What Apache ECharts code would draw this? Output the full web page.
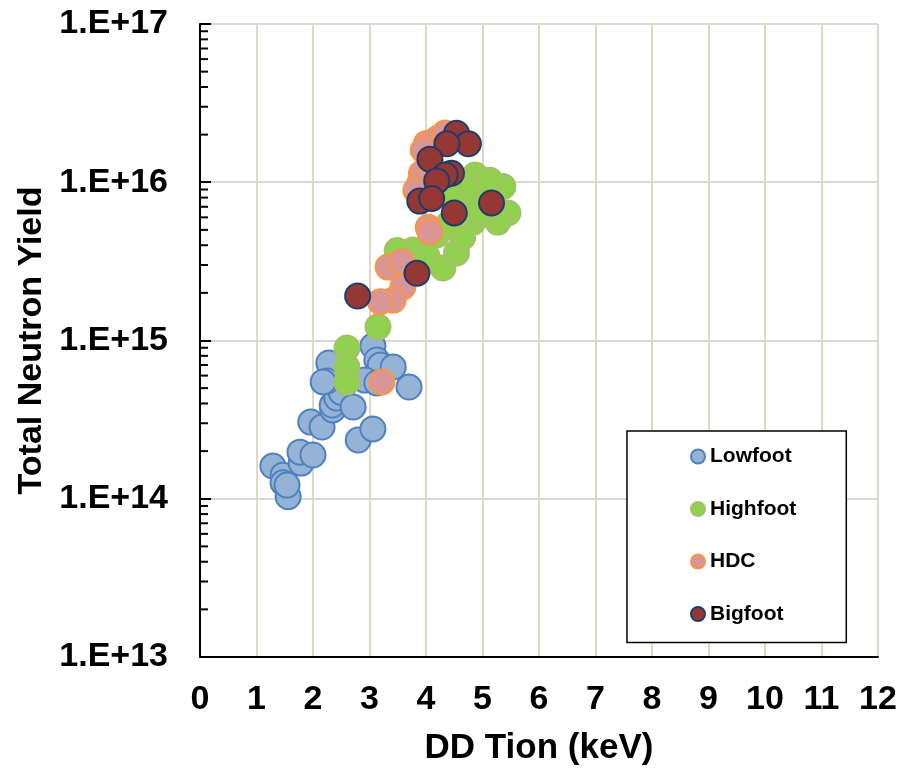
<!DOCTYPE html>
<html>
<head>
<meta charset="utf-8">
<script src="https://cdn.jsdelivr.net/npm/echarts@6/dist/echarts.min.js"></script>
<style>
    html, body { margin: 0; padding: 0; background: #fff; }
    #chart { width: 904px; height: 769px; }
</style>
</head>
<body>
<div id="chart"></div>
<script>
// [DD Tion (keV), total neutron yield]
const lowfootPoints = [
    [1.29, 1.61e14], [1.47, 1.41e14], [1.47, 1.26e14], [1.56, 1.03e14], [1.54, 1.22e14],
    [1.79, 1.68e14], [1.77, 1.97e14], [2.00, 1.89e14], [1.96, 3.05e14], [2.16, 2.84e14],
    [2.35, 3.64e14], [2.34, 3.91e14], [2.42, 4.33e14], [2.50, 4.7e14], [2.71, 3.80e14],
    [2.80, 2.35e14], [3.06, 2.76e14], [2.28, 7.21e14], [2.25, 5.55e14], [2.18, 5.47e14],
    [3.06, 9.23e14], [3.13, 7.53e14], [3.19, 7.0e14], [3.42, 6.8e14], [2.92, 5.62e14],
    [3.13, 5.39e14], [3.70, 5.08e14]
];
const highfootPoints = [
    [3.15, 1.22e15], [2.60, 8.97e14], [2.60, 6.8e14], [2.60, 5.47e14], [3.77, 3.73e15],
    [3.49, 3.7e15], [4.02, 3.39e15], [4.30, 2.87e15], [4.54, 3.57e15], [4.19, 4.64e15],
    [4.87, 1.11e16], [5.36, 9.4e15], [5.45, 6.4e15], [5.27, 5.6e15], [4.83, 5.6e15],
    [4.60, 7.0e15], [4.72, 8.9e15], [5.07, 7.7e15], [4.65, 4.5e15], [4.39, 5.4e15],
    [5.13, 1.03e16], [4.45, 8.0e15], [4.95, 6.5e15]
];
const hdcPoints = [
    [4.01, 1.76e16], [4.21, 1.9e16], [4.34, 2.05e16], [3.95, 1.6e16], [3.92, 1.14e16],
    [3.89, 9.9e15], [3.82, 8.9e15], [4.04, 5.2e15], [4.07, 4.85e15], [3.33, 2.91e15],
    [3.57, 3.15e15], [3.59, 2.18e15], [3.42, 1.8e15], [3.19, 1.76e15], [3.22, 5.47e14]
];
const bigfootPoints = [
    [4.54, 2.04e16], [4.75, 1.75e16], [4.37, 1.75e16], [4.07, 1.40e16], [4.45, 1.14e16],
    [4.34, 1.11e16], [4.19, 1.02e16], [3.89, 7.6e15], [4.10, 7.9e15], [4.50, 6.4e15],
    [5.16, 7.4e15], [3.84, 2.66e15], [2.79, 1.91e15]
];

const seriesNames = ["Lowfoot", "Highfoot", "HDC", "Bigfoot"];
const yTickLabels = ["1.E+13", "1.E+14", "1.E+15", "1.E+16", "1.E+17"];
// log minor ticks 2..9 in every decade
const minorTickValues = [];
[1e13, 1e14, 1e15, 1e16].forEach(d => {
    for (let k = 2; k <= 9; k++) minorTickValues.push(k * d);
});

const FONT = "'Liberation Sans', Arial, sans-serif";

const scatter = (name, data, fill, border) => ({
    name: name,
    type: "scatter",
    data: data,
    symbol: "circle",
    symbolSize: 25,
    itemStyle: {
        color: fill,
        borderColor: border,
        borderWidth: 2,
        opacity: 1
    }
});

const ecIns = echarts.init(document.getElementById("chart"));
ecIns.setOption({
    animation: false,
    backgroundColor: "#fff",
    grid: {
        left: 200,
        right: 26,
        top: 24,
        bottom: 112,
        outerBoundsMode: "none"
    },
    legend: {
        data: seriesNames,
        orient: "vertical",
        left: 627,
        top: 431,
        padding: [15, 50, 18, 63],
        itemGap: 31.5,
        itemWidth: 14,
        itemHeight: 14,
        itemTextGap: 3,
        backgroundColor: "#fff",
        borderColor: "#000",
        borderWidth: 1.5,
        borderRadius: 0,
        textStyle: {
            fontFamily: FONT,
            fontWeight: "bold",
            fontSize: 21,
            lineHeight: 21,
            color: "#000"
        }
    },
    xAxis: {
        type: "value",
        min: 0,
        max: 12,
        interval: 1,
        name: "DD Tion (keV)",
        nameLocation: "middle",
        nameGap: 74,
        nameTextStyle: {
            fontFamily: FONT,
            fontWeight: "bold",
            fontSize: 35,
            color: "#000"
        },
        axisLine: { lineStyle: { color: "#000", width: 2 } },
        axisTick: { show: false },
        axisLabel: {
            margin: 26,
            fontFamily: FONT,
            fontWeight: "bold",
            fontSize: 34,
            color: "#000"
        },
        splitLine: { show: true, lineStyle: { color: "#ddd9c3", width: 2 } }
    },
    yAxis: {
        type: "log",
        logBase: 10,
        min: 1e13,
        max: 1e17,
        name: "Total Neutron Yield",
        nameLocation: "middle",
        nameRotate: 90,
        nameGap: 150,
        nameTextStyle: {
            fontFamily: FONT,
            fontWeight: "bold",
            fontSize: 34,
            color: "#000"
        },
        axisLine: { show: true, lineStyle: { color: "#000", width: 2 } },
        axisTick: { show: true, inside: true, length: 11, lineStyle: { color: "#000", width: 2 } },
        axisLabel: {
            margin: 32,
            fontFamily: FONT,
            fontWeight: "bold",
            fontSize: 34,
            color: "#000",
            formatter: v => yTickLabels[Math.round(Math.log10(v)) - 13]
        },
        splitLine: { show: true, lineStyle: { color: "#d9d9d9", width: 2 } }
    },
    series: [
        scatter("Lowfoot", lowfootPoints, "#95b3d7", "#4f81bd"),
        scatter("Highfoot", highfootPoints, "#92d050", "#a3c167"),
        scatter("HDC", hdcPoints, "#da9694", "#f79646"),
        scatter("Bigfoot", bigfootPoints, "#953735", "#1f3d6b"),
        {
            name: "minorTicks",
            type: "custom",
            silent: true,
            z: 5,
            data: minorTickValues.map(v => [0, v]),
            renderItem: (params, api) => {
                const p = api.coord([api.value(0), api.value(1)]);
                return {
                    type: "line",
                    shape: { x1: p[0], y1: p[1], x2: p[0] + 8, y2: p[1] },
                    style: { stroke: "#000", lineWidth: 2 }
                };
            }
        }
    ]
});
</script>
</body>
</html>
